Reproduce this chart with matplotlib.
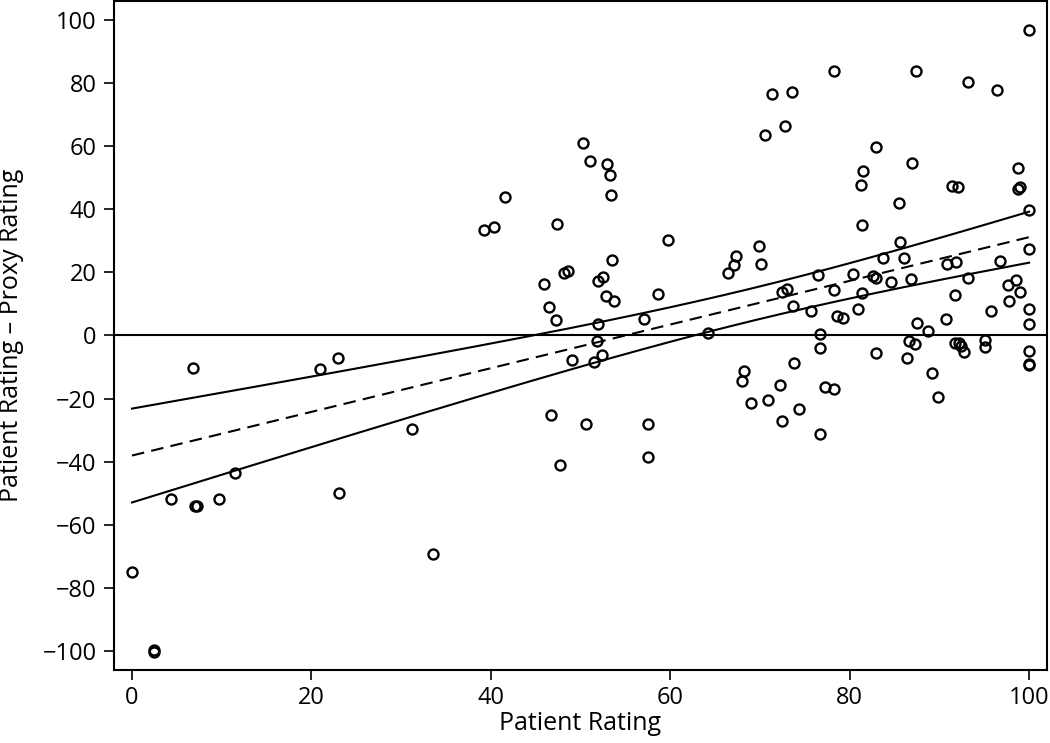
import numpy as np
import matplotlib
matplotlib.use("Agg")
import matplotlib.pyplot as plt

# Patient rating (x) and patient - proxy difference (y)
patient_rating = [
    6.8, 21.0, 23.0, 31.2, 11.5, 4.4, 7.0, 7.2, 9.7, 23.1, 33.5, 0.0, 2.4, 2.4,
    46.7, 50.6, 47.7, 57.5, 57.5, 49.1, 51.5, 52.4, 51.8, 51.9, 47.3, 57.1, 64.2,
    68.2, 68.0, 69.0,
    50.3, 51.0, 53.0, 53.3, 53.4, 41.6, 39.2, 40.3, 47.4, 59.8, 53.5, 48.2, 48.6,
    45.9, 52.5, 51.9, 52.8, 53.7, 46.5, 58.6, 67.3, 67.1, 66.4,
    71.3, 73.6, 78.3, 87.4, 93.2, 96.4, 100.0, 70.6, 72.8, 82.9, 86.9, 81.5, 81.3,
    91.4, 92.1, 98.8, 99.0, 98.8, 85.5, 100.0, 81.4, 85.6, 69.9, 70.1, 100.0,
    83.7, 86.0, 90.8, 91.9, 96.8, 76.5, 80.4, 82.6, 82.9, 84.6, 86.8, 93.2,
    72.5, 73.0, 78.2, 81.4, 91.7, 97.6, 98.5, 99.0, 97.8, 100.0, 100.0, 95.8,
    73.7, 75.7, 78.6, 79.3, 80.9, 87.5, 88.7, 90.7, 76.7,
    76.7, 73.8, 70.9, 72.2, 72.5, 74.4, 76.7, 77.3, 78.2, 82.9, 86.6, 87.3,
    86.4, 89.2, 89.8, 91.7, 92.2, 92.4, 92.7, 95.1, 95.1, 100.0, 100.0, 100.0,
]
rating_difference = [
    -10.4, -10.7, -7.0, -29.6, -43.4, -51.7, -54.0, -54.0, -51.7, -49.9, -69.1, -75.0, -99.5, -100.3,
    -25.2, -27.9, -41.1, -27.9, -38.5, -7.8, -8.3, -6.2, -1.6, 3.6, 4.8, 5.1, 0.7,
    -11.1, -14.3, -21.3,
    61.0, 55.2, 54.2, 50.8, 44.6, 43.8, 33.4, 34.3, 35.3, 30.2, 23.8, 19.8, 20.4,
    16.2, 18.5, 17.2, 12.4, 11.0, 9.0, 13.2, 25.1, 22.3, 19.8,
    76.5, 77.1, 83.6, 83.6, 80.2, 77.6, 96.6, 63.4, 66.4, 59.7, 54.5, 52.2, 47.5,
    47.2, 47.0, 53.1, 47.0, 46.3, 41.8, 39.6, 34.9, 29.5, 28.3, 22.5, 27.3,
    24.6, 24.6, 22.7, 23.4, 23.7, 19.1, 19.6, 18.9, 18.1, 16.8, 17.8, 18.1,
    13.8, 14.8, 14.3, 13.5, 12.8, 16.0, 17.5, 13.9, 10.8, 8.3, 3.5, 7.7,
    9.3, 7.8, 6.2, 5.6, 8.3, 3.9, 1.4, 5.1, 0.4,
    -4.1, -8.8, -20.4, -15.8, -27.2, -23.4, -31.3, -16.2, -17.0, -5.4, -1.6, -2.8,
    -7.2, -12.0, -19.4, -2.3, -2.3, -3.3, -5.2, -1.4, -3.5, -4.8, -9.1, -9.4,
]

x_ticks = [0, 20, 40, 60, 80, 100]
y_ticks = [-100, -80, -60, -40, -20, 0, 20, 40, 60, 80, 100]

x = np.asarray(patient_rating, dtype=float)
y = np.asarray(rating_difference, dtype=float)

# Linear regression with 95% confidence band for the mean
n = len(x)
slope, intercept = np.polyfit(x, y, 1)
resid = y - (intercept + slope * x)
s = np.sqrt(np.sum(resid ** 2) / (n - 2))
xbar = x.mean()
sxx = np.sum((x - xbar) ** 2)
t_crit = 1.976
xg = np.linspace(0, 100, 200)
fit = intercept + slope * xg
hw = t_crit * s * np.sqrt(1.0 / n + (xg - xbar) ** 2 / sxx)

plt.rcParams['font.family'] = ['Open Sans', 'DejaVu Sans']
fig = plt.figure(figsize=(10.5, 7.43), dpi=100)
ax = fig.add_axes([0.1086, 0.0983, 0.8886, 0.9004])

ax.axhline(0, color='black', lw=1.5, zorder=1)
ax.plot(xg, fit, color='black', lw=1.5, ls=(0, (6, 3.5)), zorder=2)
ax.plot(xg, fit + hw, color='black', lw=1.5, zorder=2)
ax.plot(xg, fit - hw, color='black', lw=1.5, zorder=2)
ax.plot(x, y, ls='none', marker='o', ms=7.2, mfc='none', mec='black', mew=1.7, zorder=3)

ax.set_xlim(-2, 102)
ax.set_ylim(-105.9, 105.9)
ax.set_xticks(x_ticks)
ax.set_yticks(y_ticks)
ax.tick_params(direction='out', length=7.5, width=1.2, labelsize=17)
ax.tick_params(axis='x', pad=4)
ax.tick_params(axis='y', pad=5)
for sp in ax.spines.values():
    sp.set_linewidth(1.5)
ax.set_xlabel('Patient Rating', fontsize=18)
ax.set_ylabel('Patient Rating \u2013 Proxy Rating', fontsize=18)
ax.xaxis.set_label_coords(0.5, -0.062)
ax.yaxis.set_label_coords(-0.097, 0.5)

fig.savefig('out.png', dpi=100)
